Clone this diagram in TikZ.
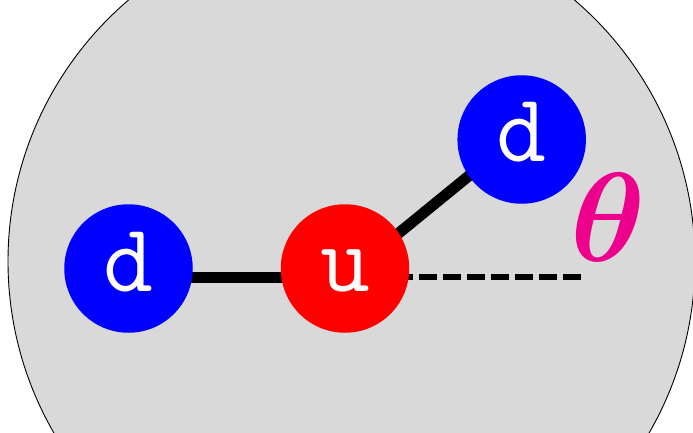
\documentclass[tikz,border=0pt]{standalone}
\usepackage{fontspec}
\usepackage{bm}
\usetikzlibrary{calc,backgrounds}
\definecolor{bg}{RGB}{217,217,217}
\definecolor{qblue}{RGB}{0,0,255}
\definecolor{qred}{RGB}{255,0,0}
\definecolor{thetac}{RGB}{236,0,140}
\newcommand{\qlabel}[1]{\raisebox{7pt}{#1}}
\tikzset{
  quark/.style={circle,minimum size=128.5pt,inner sep=0pt,text=white,
    font=\fontsize{97}{97}\selectfont\ttfamily,text height=59pt,text depth=0pt},
  bond/.style={line width=11pt,draw=black},
  dashbond/.style={line width=6pt,draw=black,dash pattern=on 18pt off 6pt}
}
\begin{document}
\begin{tikzpicture}[x=1pt,y=-1pt]
\useasboundingbox (0,0) rectangle (693,433);
\clip (0,0) rectangle (693,433);
\node[quark,fill=qblue] (dl) at (128.5,268.5) {\qlabel{d}};
\node[quark,fill=qred] (u) at (345,268.5) {\qlabel{u}};
\node[quark,fill=qblue] (dr) at (521.7,139.5) {\raisebox{1pt}{\qlabel{d}}};
\node[text=thetac,inner sep=0pt] (th) at (608,217) {\scalebox{12.7}{$\bm{\theta}$}};
\coordinate (dashend) at (581.3,277);
\begin{scope}[on background layer]
\filldraw[fill=bg,draw=black,line width=0.9pt] (351.5,261.3) circle (343.5pt);
\draw[bond] ($(dl.center)+(0,8.5)$) -- ($(u.center)+(0,8.5)$);
\draw[bond] ($(u.center)+(0,8.5)$) -- ($(dr.center)+(0,-6.8)$);
\draw[dashbond] ($(u.center)+(2.3,8.5)$) -- (dashend);
\end{scope}
\end{tikzpicture}
\end{document}
